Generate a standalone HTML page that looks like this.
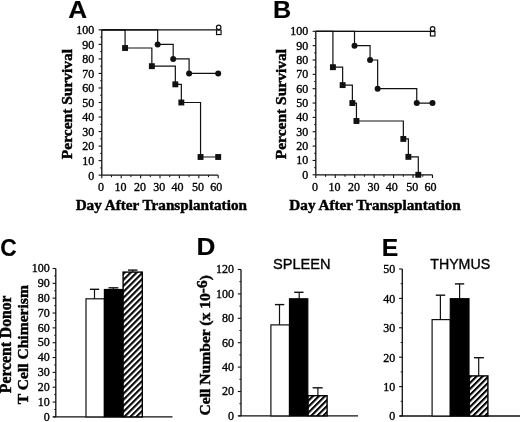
<!DOCTYPE html><html><head><meta charset="utf-8"><style>html,body{margin:0;padding:0;background:#fff;}svg{display:block;will-change:transform;}</style></head><body>
<svg width="520" height="422" viewBox="0 0 520 422">
<defs><pattern id="hatch" patternUnits="userSpaceOnUse" width="4.24" height="4.24" patternTransform="rotate(45)"><rect width="4.24" height="4.24" fill="#fff"/><rect x="0" y="0" width="2.1" height="4.24" fill="#000"/></pattern></defs>
<style>text{fill:#000;stroke:#000;stroke-width:0.35px;paint-order:stroke}text.b{stroke-width:0.45px}text.s{stroke-width:0.15px}</style>
<rect width="520" height="422" fill="#fff"/>
<text transform="translate(77.8,17.6) scale(1.09,1)" class="s" font-family="Liberation Sans" font-weight="bold" font-size="24" text-anchor="middle">A</text>
<line x1="101.8" y1="29.85" x2="101.8" y2="175.15" stroke="#111" stroke-width="1.3"/>
<line x1="98.6" y1="175.15" x2="101.8" y2="175.15" stroke="#111" stroke-width="1.1"/>
<text x="94.2" y="179.55" font-family="Liberation Serif" font-size="12" font-weight="normal" text-anchor="end" >0</text>
<line x1="98.6" y1="160.62" x2="101.8" y2="160.62" stroke="#111" stroke-width="1.1"/>
<text x="94.2" y="165.02" font-family="Liberation Serif" font-size="12" font-weight="normal" text-anchor="end" >10</text>
<line x1="98.6" y1="146.09" x2="101.8" y2="146.09" stroke="#111" stroke-width="1.1"/>
<text x="94.2" y="150.49" font-family="Liberation Serif" font-size="12" font-weight="normal" text-anchor="end" >20</text>
<line x1="98.6" y1="131.56" x2="101.8" y2="131.56" stroke="#111" stroke-width="1.1"/>
<text x="94.2" y="135.96" font-family="Liberation Serif" font-size="12" font-weight="normal" text-anchor="end" >30</text>
<line x1="98.6" y1="117.03" x2="101.8" y2="117.03" stroke="#111" stroke-width="1.1"/>
<text x="94.2" y="121.43" font-family="Liberation Serif" font-size="12" font-weight="normal" text-anchor="end" >40</text>
<line x1="98.6" y1="102.5" x2="101.8" y2="102.5" stroke="#111" stroke-width="1.1"/>
<text x="94.2" y="106.9" font-family="Liberation Serif" font-size="12" font-weight="normal" text-anchor="end" >50</text>
<line x1="98.6" y1="87.97" x2="101.8" y2="87.97" stroke="#111" stroke-width="1.1"/>
<text x="94.2" y="92.37" font-family="Liberation Serif" font-size="12" font-weight="normal" text-anchor="end" >60</text>
<line x1="98.6" y1="73.44" x2="101.8" y2="73.44" stroke="#111" stroke-width="1.1"/>
<text x="94.2" y="77.84" font-family="Liberation Serif" font-size="12" font-weight="normal" text-anchor="end" >70</text>
<line x1="98.6" y1="58.91" x2="101.8" y2="58.91" stroke="#111" stroke-width="1.1"/>
<text x="94.2" y="63.31" font-family="Liberation Serif" font-size="12" font-weight="normal" text-anchor="end" >80</text>
<line x1="98.6" y1="44.38" x2="101.8" y2="44.38" stroke="#111" stroke-width="1.1"/>
<text x="94.2" y="48.78" font-family="Liberation Serif" font-size="12" font-weight="normal" text-anchor="end" >90</text>
<line x1="98.6" y1="29.85" x2="101.8" y2="29.85" stroke="#111" stroke-width="1.1"/>
<text x="94.2" y="34.25" font-family="Liberation Serif" font-size="12" font-weight="normal" text-anchor="end" >100</text>
<line x1="100.2" y1="167.88" x2="101.8" y2="167.88" stroke="#111" stroke-width="1.0"/>
<line x1="100.2" y1="153.36" x2="101.8" y2="153.36" stroke="#111" stroke-width="1.0"/>
<line x1="100.2" y1="138.82" x2="101.8" y2="138.82" stroke="#111" stroke-width="1.0"/>
<line x1="100.2" y1="124.3" x2="101.8" y2="124.3" stroke="#111" stroke-width="1.0"/>
<line x1="100.2" y1="109.77" x2="101.8" y2="109.77" stroke="#111" stroke-width="1.0"/>
<line x1="100.2" y1="95.23" x2="101.8" y2="95.23" stroke="#111" stroke-width="1.0"/>
<line x1="100.2" y1="80.7" x2="101.8" y2="80.7" stroke="#111" stroke-width="1.0"/>
<line x1="100.2" y1="66.17" x2="101.8" y2="66.17" stroke="#111" stroke-width="1.0"/>
<line x1="100.2" y1="51.64" x2="101.8" y2="51.64" stroke="#111" stroke-width="1.0"/>
<line x1="100.2" y1="37.12" x2="101.8" y2="37.12" stroke="#111" stroke-width="1.0"/>
<line x1="101.8" y1="175.15" x2="218.2" y2="175.15" stroke="#111" stroke-width="1.3"/>
<line x1="101.8" y1="175.15" x2="101.8" y2="178.35" stroke="#111" stroke-width="1.1"/>
<text x="101.1" y="190.9" font-family="Liberation Serif" font-size="12" font-weight="normal" text-anchor="middle" >0</text>
<line x1="121.2" y1="175.15" x2="121.2" y2="178.35" stroke="#111" stroke-width="1.1"/>
<text x="120.5" y="190.9" font-family="Liberation Serif" font-size="12" font-weight="normal" text-anchor="middle" >10</text>
<line x1="140.6" y1="175.15" x2="140.6" y2="178.35" stroke="#111" stroke-width="1.1"/>
<text x="139.9" y="190.9" font-family="Liberation Serif" font-size="12" font-weight="normal" text-anchor="middle" >20</text>
<line x1="160" y1="175.15" x2="160" y2="178.35" stroke="#111" stroke-width="1.1"/>
<text x="159.3" y="190.9" font-family="Liberation Serif" font-size="12" font-weight="normal" text-anchor="middle" >30</text>
<line x1="179.4" y1="175.15" x2="179.4" y2="178.35" stroke="#111" stroke-width="1.1"/>
<text x="177.5" y="190.9" font-family="Liberation Serif" font-size="12" font-weight="normal" text-anchor="middle" >40</text>
<line x1="198.8" y1="175.15" x2="198.8" y2="178.35" stroke="#111" stroke-width="1.1"/>
<text x="198.1" y="190.9" font-family="Liberation Serif" font-size="12" font-weight="normal" text-anchor="middle" >50</text>
<line x1="218.2" y1="175.15" x2="218.2" y2="178.35" stroke="#111" stroke-width="1.1"/>
<text x="216.3" y="190.9" font-family="Liberation Serif" font-size="12" font-weight="normal" text-anchor="middle" >60</text>
<line x1="111.5" y1="175.15" x2="111.5" y2="177.15" stroke="#111" stroke-width="1.0"/>
<line x1="130.9" y1="175.15" x2="130.9" y2="177.15" stroke="#111" stroke-width="1.0"/>
<line x1="150.3" y1="175.15" x2="150.3" y2="177.15" stroke="#111" stroke-width="1.0"/>
<line x1="169.7" y1="175.15" x2="169.7" y2="177.15" stroke="#111" stroke-width="1.0"/>
<line x1="189.1" y1="175.15" x2="189.1" y2="177.15" stroke="#111" stroke-width="1.0"/>
<line x1="208.5" y1="175.15" x2="208.5" y2="177.15" stroke="#111" stroke-width="1.0"/>
<line x1="101.8" y1="29.85" x2="218.2" y2="29.85" stroke="#111" stroke-width="1.2"/>
<path d="M101.8,29.85 H157.67 V44.38 H173.19 V58.91 H189.1 V73.44 H218.2 V73.44" fill="none" stroke="#111" stroke-width="1.2"/>
<path d="M101.8,29.85 H125.08 V48.01 H151.85 V66.17 H175.33 V84.34 H181.34 V102.5 H200.55 V156.99 H218.2 V156.99" fill="none" stroke="#111" stroke-width="1.2"/>
<circle cx="157.67" cy="44.38" r="3" fill="#111"/>
<circle cx="173.19" cy="58.91" r="3" fill="#111"/>
<circle cx="189.1" cy="73.44" r="3" fill="#111"/>
<circle cx="218.2" cy="73.44" r="3" fill="#111"/>
<rect x="122.13" y="45.06" width="5.9" height="5.9" fill="#111"/>
<rect x="148.9" y="63.22" width="5.9" height="5.9" fill="#111"/>
<rect x="172.38" y="81.39" width="5.9" height="5.9" fill="#111"/>
<rect x="178.39" y="99.55" width="5.9" height="5.9" fill="#111"/>
<rect x="197.6" y="154.04" width="5.9" height="5.9" fill="#111"/>
<rect x="215.25" y="154.04" width="5.9" height="5.9" fill="#111"/>
<rect x="216.55" y="30.05" width="4.5" height="4.5" fill="#fff" stroke="#111" stroke-width="1.2"/>
<circle cx="218.7" cy="27.35" r="2.25" fill="#fff" stroke="#111" stroke-width="1.2"/>
<text transform="translate(72,104) rotate(-90)" class="b" font-family="Liberation Serif" font-weight="bold" font-size="15.5" text-anchor="middle">Percent Survival</text>
<text x="161.3" y="209.8" font-family="Liberation Serif" font-size="15.2" font-weight="bold" text-anchor="middle" class="b">Day After Transplantation</text>
<text transform="translate(282.2,17.6) scale(1.05,1)" class="s" font-family="Liberation Sans" font-weight="bold" font-size="24" text-anchor="middle">B</text>
<line x1="315.8" y1="31.3" x2="315.8" y2="174.8" stroke="#111" stroke-width="1.3"/>
<line x1="312.6" y1="174.8" x2="315.8" y2="174.8" stroke="#111" stroke-width="1.1"/>
<text x="308.2" y="178.8" font-family="Liberation Serif" font-size="12" font-weight="normal" text-anchor="end" >0</text>
<line x1="312.6" y1="160.45" x2="315.8" y2="160.45" stroke="#111" stroke-width="1.1"/>
<text x="308.2" y="164.45" font-family="Liberation Serif" font-size="12" font-weight="normal" text-anchor="end" >10</text>
<line x1="312.6" y1="146.1" x2="315.8" y2="146.1" stroke="#111" stroke-width="1.1"/>
<text x="308.2" y="150.1" font-family="Liberation Serif" font-size="12" font-weight="normal" text-anchor="end" >20</text>
<line x1="312.6" y1="131.75" x2="315.8" y2="131.75" stroke="#111" stroke-width="1.1"/>
<text x="308.2" y="135.75" font-family="Liberation Serif" font-size="12" font-weight="normal" text-anchor="end" >30</text>
<line x1="312.6" y1="117.4" x2="315.8" y2="117.4" stroke="#111" stroke-width="1.1"/>
<text x="308.2" y="121.4" font-family="Liberation Serif" font-size="12" font-weight="normal" text-anchor="end" >40</text>
<line x1="312.6" y1="103.05" x2="315.8" y2="103.05" stroke="#111" stroke-width="1.1"/>
<text x="308.2" y="107.05" font-family="Liberation Serif" font-size="12" font-weight="normal" text-anchor="end" >50</text>
<line x1="312.6" y1="88.7" x2="315.8" y2="88.7" stroke="#111" stroke-width="1.1"/>
<text x="308.2" y="92.7" font-family="Liberation Serif" font-size="12" font-weight="normal" text-anchor="end" >60</text>
<line x1="312.6" y1="74.35" x2="315.8" y2="74.35" stroke="#111" stroke-width="1.1"/>
<text x="308.2" y="78.35" font-family="Liberation Serif" font-size="12" font-weight="normal" text-anchor="end" >70</text>
<line x1="312.6" y1="60" x2="315.8" y2="60" stroke="#111" stroke-width="1.1"/>
<text x="308.2" y="64" font-family="Liberation Serif" font-size="12" font-weight="normal" text-anchor="end" >80</text>
<line x1="312.6" y1="45.65" x2="315.8" y2="45.65" stroke="#111" stroke-width="1.1"/>
<text x="308.2" y="49.65" font-family="Liberation Serif" font-size="12" font-weight="normal" text-anchor="end" >90</text>
<line x1="312.6" y1="31.3" x2="315.8" y2="31.3" stroke="#111" stroke-width="1.1"/>
<text x="308.2" y="35.3" font-family="Liberation Serif" font-size="12" font-weight="normal" text-anchor="end" >100</text>
<line x1="314.2" y1="167.62" x2="315.8" y2="167.62" stroke="#111" stroke-width="1.0"/>
<line x1="314.2" y1="153.28" x2="315.8" y2="153.28" stroke="#111" stroke-width="1.0"/>
<line x1="314.2" y1="138.93" x2="315.8" y2="138.93" stroke="#111" stroke-width="1.0"/>
<line x1="314.2" y1="124.58" x2="315.8" y2="124.58" stroke="#111" stroke-width="1.0"/>
<line x1="314.2" y1="110.23" x2="315.8" y2="110.23" stroke="#111" stroke-width="1.0"/>
<line x1="314.2" y1="95.88" x2="315.8" y2="95.88" stroke="#111" stroke-width="1.0"/>
<line x1="314.2" y1="81.53" x2="315.8" y2="81.53" stroke="#111" stroke-width="1.0"/>
<line x1="314.2" y1="67.18" x2="315.8" y2="67.18" stroke="#111" stroke-width="1.0"/>
<line x1="314.2" y1="52.83" x2="315.8" y2="52.83" stroke="#111" stroke-width="1.0"/>
<line x1="314.2" y1="38.47" x2="315.8" y2="38.47" stroke="#111" stroke-width="1.0"/>
<line x1="315.8" y1="174.8" x2="432.5" y2="174.8" stroke="#111" stroke-width="1.3"/>
<line x1="315.8" y1="174.8" x2="315.8" y2="178" stroke="#111" stroke-width="1.1"/>
<text x="315.1" y="191.3" font-family="Liberation Serif" font-size="12" font-weight="normal" text-anchor="middle" >0</text>
<line x1="335.25" y1="174.8" x2="335.25" y2="178" stroke="#111" stroke-width="1.1"/>
<text x="334.55" y="191.3" font-family="Liberation Serif" font-size="12" font-weight="normal" text-anchor="middle" >10</text>
<line x1="354.7" y1="174.8" x2="354.7" y2="178" stroke="#111" stroke-width="1.1"/>
<text x="354" y="191.3" font-family="Liberation Serif" font-size="12" font-weight="normal" text-anchor="middle" >20</text>
<line x1="374.15" y1="174.8" x2="374.15" y2="178" stroke="#111" stroke-width="1.1"/>
<text x="373.45" y="191.3" font-family="Liberation Serif" font-size="12" font-weight="normal" text-anchor="middle" >30</text>
<line x1="393.6" y1="174.8" x2="393.6" y2="178" stroke="#111" stroke-width="1.1"/>
<text x="391.7" y="191.3" font-family="Liberation Serif" font-size="12" font-weight="normal" text-anchor="middle" >40</text>
<line x1="413.05" y1="174.8" x2="413.05" y2="178" stroke="#111" stroke-width="1.1"/>
<text x="412.35" y="191.3" font-family="Liberation Serif" font-size="12" font-weight="normal" text-anchor="middle" >50</text>
<line x1="432.5" y1="174.8" x2="432.5" y2="178" stroke="#111" stroke-width="1.1"/>
<text x="430.6" y="191.3" font-family="Liberation Serif" font-size="12" font-weight="normal" text-anchor="middle" >60</text>
<line x1="325.53" y1="174.8" x2="325.53" y2="176.8" stroke="#111" stroke-width="1.0"/>
<line x1="344.98" y1="174.8" x2="344.98" y2="176.8" stroke="#111" stroke-width="1.0"/>
<line x1="364.43" y1="174.8" x2="364.43" y2="176.8" stroke="#111" stroke-width="1.0"/>
<line x1="383.88" y1="174.8" x2="383.88" y2="176.8" stroke="#111" stroke-width="1.0"/>
<line x1="403.33" y1="174.8" x2="403.33" y2="176.8" stroke="#111" stroke-width="1.0"/>
<line x1="422.78" y1="174.8" x2="422.78" y2="176.8" stroke="#111" stroke-width="1.0"/>
<line x1="315.8" y1="31.3" x2="432.5" y2="31.3" stroke="#111" stroke-width="1.2"/>
<path d="M315.8,31.3 H354.51 V45.65 H370.07 V60 H377.65 V88.7 H416.75 V103.05 H432.5 V103.05" fill="none" stroke="#111" stroke-width="1.2"/>
<path d="M315.8,31.3 H332.92 V67.18 H342.64 V85.11 H352.37 V103.05 H356.45 V120.99 H403.33 V138.93 H408.38 V156.86 H418.3 V174.8" fill="none" stroke="#111" stroke-width="1.2"/>
<circle cx="354.51" cy="45.65" r="3" fill="#111"/>
<circle cx="370.07" cy="60" r="3" fill="#111"/>
<circle cx="377.65" cy="88.7" r="3" fill="#111"/>
<circle cx="416.75" cy="103.05" r="3" fill="#111"/>
<circle cx="432.5" cy="103.05" r="3" fill="#111"/>
<rect x="329.97" y="64.23" width="5.9" height="5.9" fill="#111"/>
<rect x="339.69" y="82.16" width="5.9" height="5.9" fill="#111"/>
<rect x="349.42" y="100.1" width="5.9" height="5.9" fill="#111"/>
<rect x="353.5" y="118.04" width="5.9" height="5.9" fill="#111"/>
<rect x="400.38" y="135.98" width="5.9" height="5.9" fill="#111"/>
<rect x="405.43" y="153.91" width="5.9" height="5.9" fill="#111"/>
<rect x="415.35" y="171.85" width="5.9" height="5.9" fill="#111"/>
<rect x="430.45" y="31.5" width="4.5" height="4.5" fill="#fff" stroke="#111" stroke-width="1.2"/>
<circle cx="432.6" cy="28.8" r="2.25" fill="#fff" stroke="#111" stroke-width="1.2"/>
<text transform="translate(286.3,104.1) rotate(-90)" class="b" font-family="Liberation Serif" font-weight="bold" font-size="15.5" text-anchor="middle">Percent Survival</text>
<text x="375" y="209.8" font-family="Liberation Serif" font-size="15.2" font-weight="bold" text-anchor="middle" class="b">Day After Transplantation</text>
<text transform="translate(8.5,256.2) scale(0.95,1)" class="s" font-family="Liberation Sans" font-weight="bold" font-size="24" text-anchor="middle">C</text>
<line x1="55.8" y1="268.5" x2="55.8" y2="416.9" stroke="#111" stroke-width="1.3"/>
<line x1="52.6" y1="416.9" x2="55.8" y2="416.9" stroke="#111" stroke-width="1.1"/>
<text x="49.8" y="420.6" font-family="Liberation Serif" font-size="12" font-weight="normal" text-anchor="end" >0</text>
<line x1="52.6" y1="402.06" x2="55.8" y2="402.06" stroke="#111" stroke-width="1.1"/>
<text x="49.8" y="405.76" font-family="Liberation Serif" font-size="12" font-weight="normal" text-anchor="end" >10</text>
<line x1="52.6" y1="387.22" x2="55.8" y2="387.22" stroke="#111" stroke-width="1.1"/>
<text x="49.8" y="390.92" font-family="Liberation Serif" font-size="12" font-weight="normal" text-anchor="end" >20</text>
<line x1="52.6" y1="372.38" x2="55.8" y2="372.38" stroke="#111" stroke-width="1.1"/>
<text x="49.8" y="376.08" font-family="Liberation Serif" font-size="12" font-weight="normal" text-anchor="end" >30</text>
<line x1="52.6" y1="357.54" x2="55.8" y2="357.54" stroke="#111" stroke-width="1.1"/>
<text x="49.8" y="361.24" font-family="Liberation Serif" font-size="12" font-weight="normal" text-anchor="end" >40</text>
<line x1="52.6" y1="342.7" x2="55.8" y2="342.7" stroke="#111" stroke-width="1.1"/>
<text x="49.8" y="346.4" font-family="Liberation Serif" font-size="12" font-weight="normal" text-anchor="end" >50</text>
<line x1="52.6" y1="327.86" x2="55.8" y2="327.86" stroke="#111" stroke-width="1.1"/>
<text x="49.8" y="331.56" font-family="Liberation Serif" font-size="12" font-weight="normal" text-anchor="end" >60</text>
<line x1="52.6" y1="313.02" x2="55.8" y2="313.02" stroke="#111" stroke-width="1.1"/>
<text x="49.8" y="316.72" font-family="Liberation Serif" font-size="12" font-weight="normal" text-anchor="end" >70</text>
<line x1="52.6" y1="298.18" x2="55.8" y2="298.18" stroke="#111" stroke-width="1.1"/>
<text x="49.8" y="301.88" font-family="Liberation Serif" font-size="12" font-weight="normal" text-anchor="end" >80</text>
<line x1="52.6" y1="283.34" x2="55.8" y2="283.34" stroke="#111" stroke-width="1.1"/>
<text x="49.8" y="287.04" font-family="Liberation Serif" font-size="12" font-weight="normal" text-anchor="end" >90</text>
<line x1="52.6" y1="268.5" x2="55.8" y2="268.5" stroke="#111" stroke-width="1.1"/>
<text x="49.8" y="272.2" font-family="Liberation Serif" font-size="12" font-weight="normal" text-anchor="end" >100</text>
<line x1="54.2" y1="409.48" x2="55.8" y2="409.48" stroke="#111" stroke-width="1.0"/>
<line x1="54.2" y1="394.64" x2="55.8" y2="394.64" stroke="#111" stroke-width="1.0"/>
<line x1="54.2" y1="379.8" x2="55.8" y2="379.8" stroke="#111" stroke-width="1.0"/>
<line x1="54.2" y1="364.96" x2="55.8" y2="364.96" stroke="#111" stroke-width="1.0"/>
<line x1="54.2" y1="350.12" x2="55.8" y2="350.12" stroke="#111" stroke-width="1.0"/>
<line x1="54.2" y1="335.28" x2="55.8" y2="335.28" stroke="#111" stroke-width="1.0"/>
<line x1="54.2" y1="320.44" x2="55.8" y2="320.44" stroke="#111" stroke-width="1.0"/>
<line x1="54.2" y1="305.6" x2="55.8" y2="305.6" stroke="#111" stroke-width="1.0"/>
<line x1="54.2" y1="290.76" x2="55.8" y2="290.76" stroke="#111" stroke-width="1.0"/>
<line x1="54.2" y1="275.92" x2="55.8" y2="275.92" stroke="#111" stroke-width="1.0"/>
<line x1="53.2" y1="416.9" x2="172.5" y2="416.9" stroke="#111" stroke-width="1.3"/>
<line x1="94.5" y1="289.3" x2="94.5" y2="298.8" stroke="#111" stroke-width="1.2"/>
<line x1="89.9" y1="289.3" x2="99.2" y2="289.3" stroke="#111" stroke-width="1.4"/>
<rect x="86" y="298.8" width="18.4" height="118.1" fill="#fff" stroke="#111" stroke-width="1.2"/>
<line x1="113.4" y1="287.8" x2="113.4" y2="289.5" stroke="#111" stroke-width="1.2"/>
<line x1="108.5" y1="287.8" x2="118.3" y2="287.8" stroke="#111" stroke-width="1.4"/>
<rect x="104.4" y="289.5" width="18.4" height="127.4" fill="#000" stroke="#000" stroke-width="1.2"/>
<line x1="132.8" y1="270.1" x2="132.8" y2="272.1" stroke="#111" stroke-width="1.2"/>
<line x1="128" y1="270.1" x2="137.5" y2="270.1" stroke="#111" stroke-width="1.4"/>
<rect x="123.1" y="272.1" width="19.2" height="144.8" fill="url(#hatch)" stroke="#000" stroke-width="1.4"/>
<text transform="translate(10.8,344.3) rotate(-90)" class="b" font-family="Liberation Serif" font-weight="bold" font-size="15.7" text-anchor="middle">Percent Donor</text>
<text transform="translate(27.7,344.7) rotate(-90)" class="b" font-family="Liberation Serif" font-weight="bold" font-size="15.6" text-anchor="middle">T Cell Chimerism</text>
<text transform="translate(206,255.4) scale(1.09,1)" class="s" font-family="Liberation Sans" font-weight="bold" font-size="24" text-anchor="middle">D</text>
<line x1="241" y1="269.5" x2="241" y2="415.9" stroke="#111" stroke-width="1.3"/>
<line x1="237.8" y1="415.9" x2="241" y2="415.9" stroke="#111" stroke-width="1.1"/>
<text x="234" y="419.8" font-family="Liberation Serif" font-size="12" font-weight="normal" text-anchor="end" >0</text>
<line x1="237.8" y1="391.5" x2="241" y2="391.5" stroke="#111" stroke-width="1.1"/>
<text x="234" y="395.4" font-family="Liberation Serif" font-size="12" font-weight="normal" text-anchor="end" >20</text>
<line x1="237.8" y1="367.1" x2="241" y2="367.1" stroke="#111" stroke-width="1.1"/>
<text x="234" y="371" font-family="Liberation Serif" font-size="12" font-weight="normal" text-anchor="end" >40</text>
<line x1="237.8" y1="342.7" x2="241" y2="342.7" stroke="#111" stroke-width="1.1"/>
<text x="234" y="346.6" font-family="Liberation Serif" font-size="12" font-weight="normal" text-anchor="end" >60</text>
<line x1="237.8" y1="318.3" x2="241" y2="318.3" stroke="#111" stroke-width="1.1"/>
<text x="234" y="322.2" font-family="Liberation Serif" font-size="12" font-weight="normal" text-anchor="end" >80</text>
<line x1="237.8" y1="293.9" x2="241" y2="293.9" stroke="#111" stroke-width="1.1"/>
<text x="234" y="297.8" font-family="Liberation Serif" font-size="12" font-weight="normal" text-anchor="end" >100</text>
<line x1="237.8" y1="269.5" x2="241" y2="269.5" stroke="#111" stroke-width="1.1"/>
<text x="234" y="273.4" font-family="Liberation Serif" font-size="12" font-weight="normal" text-anchor="end" >120</text>
<line x1="239.4" y1="403.7" x2="241" y2="403.7" stroke="#111" stroke-width="1.0"/>
<line x1="239.4" y1="379.3" x2="241" y2="379.3" stroke="#111" stroke-width="1.0"/>
<line x1="239.4" y1="354.9" x2="241" y2="354.9" stroke="#111" stroke-width="1.0"/>
<line x1="239.4" y1="330.5" x2="241" y2="330.5" stroke="#111" stroke-width="1.0"/>
<line x1="239.4" y1="306.1" x2="241" y2="306.1" stroke="#111" stroke-width="1.0"/>
<line x1="239.4" y1="281.7" x2="241" y2="281.7" stroke="#111" stroke-width="1.0"/>
<line x1="238.4" y1="415.9" x2="358" y2="415.9" stroke="#111" stroke-width="1.3"/>
<line x1="279.5" y1="304.6" x2="279.5" y2="324.9" stroke="#111" stroke-width="1.2"/>
<line x1="274.9" y1="304.6" x2="284.3" y2="304.6" stroke="#111" stroke-width="1.4"/>
<rect x="270.9" y="324.9" width="18.6" height="91" fill="#fff" stroke="#111" stroke-width="1.2"/>
<line x1="299.2" y1="292.3" x2="299.2" y2="298.8" stroke="#111" stroke-width="1.2"/>
<line x1="294.2" y1="292.3" x2="303.5" y2="292.3" stroke="#111" stroke-width="1.4"/>
<rect x="289.5" y="298.8" width="18.3" height="117.1" fill="#000" stroke="#000" stroke-width="1.2"/>
<line x1="317.9" y1="387.8" x2="317.9" y2="395.7" stroke="#111" stroke-width="1.2"/>
<line x1="312.6" y1="387.8" x2="322.7" y2="387.8" stroke="#111" stroke-width="1.4"/>
<rect x="308.1" y="395.7" width="19" height="20.2" fill="url(#hatch)" stroke="#000" stroke-width="1.4"/>
<text x="301.8" y="268.5" font-family="Liberation Sans" font-size="14.6" font-weight="normal" text-anchor="middle" >SPLEEN</text>
<text transform="translate(210.3,345.2) rotate(-90)" class="b" font-family="Liberation Serif" font-weight="bold" font-size="15.6" text-anchor="middle">Cell Number (x 10<tspan dy="-3">-6</tspan><tspan dy="3">)</tspan></text>
<text transform="translate(390,256) scale(1.03,1)" class="s" font-family="Liberation Sans" font-weight="bold" font-size="24" text-anchor="middle">E</text>
<line x1="402.3" y1="269" x2="402.3" y2="416" stroke="#111" stroke-width="1.3"/>
<line x1="399.1" y1="416" x2="402.3" y2="416" stroke="#111" stroke-width="1.1"/>
<text x="395.3" y="420.3" font-family="Liberation Serif" font-size="12" font-weight="normal" text-anchor="end" >0</text>
<line x1="399.1" y1="386.6" x2="402.3" y2="386.6" stroke="#111" stroke-width="1.1"/>
<text x="395.3" y="390.9" font-family="Liberation Serif" font-size="12" font-weight="normal" text-anchor="end" >10</text>
<line x1="399.1" y1="357.2" x2="402.3" y2="357.2" stroke="#111" stroke-width="1.1"/>
<text x="395.3" y="361.5" font-family="Liberation Serif" font-size="12" font-weight="normal" text-anchor="end" >20</text>
<line x1="399.1" y1="327.8" x2="402.3" y2="327.8" stroke="#111" stroke-width="1.1"/>
<text x="395.3" y="332.1" font-family="Liberation Serif" font-size="12" font-weight="normal" text-anchor="end" >30</text>
<line x1="399.1" y1="298.4" x2="402.3" y2="298.4" stroke="#111" stroke-width="1.1"/>
<text x="395.3" y="302.7" font-family="Liberation Serif" font-size="12" font-weight="normal" text-anchor="end" >40</text>
<line x1="399.1" y1="269" x2="402.3" y2="269" stroke="#111" stroke-width="1.1"/>
<text x="395.3" y="273.3" font-family="Liberation Serif" font-size="12" font-weight="normal" text-anchor="end" >50</text>
<line x1="400.7" y1="401.3" x2="402.3" y2="401.3" stroke="#111" stroke-width="1.0"/>
<line x1="400.7" y1="371.9" x2="402.3" y2="371.9" stroke="#111" stroke-width="1.0"/>
<line x1="400.7" y1="342.5" x2="402.3" y2="342.5" stroke="#111" stroke-width="1.0"/>
<line x1="400.7" y1="313.1" x2="402.3" y2="313.1" stroke="#111" stroke-width="1.0"/>
<line x1="400.7" y1="283.7" x2="402.3" y2="283.7" stroke="#111" stroke-width="1.0"/>
<line x1="399.7" y1="416" x2="520" y2="416" stroke="#111" stroke-width="1.3"/>
<line x1="440.4" y1="295.2" x2="440.4" y2="319.6" stroke="#111" stroke-width="1.2"/>
<line x1="435.8" y1="295.2" x2="445.2" y2="295.2" stroke="#111" stroke-width="1.4"/>
<rect x="432.1" y="319.6" width="18.2" height="96.4" fill="#fff" stroke="#111" stroke-width="1.2"/>
<line x1="459.6" y1="283.9" x2="459.6" y2="298.7" stroke="#111" stroke-width="1.2"/>
<line x1="454.9" y1="283.9" x2="464.2" y2="283.9" stroke="#111" stroke-width="1.4"/>
<rect x="450.3" y="298.7" width="18.7" height="117.3" fill="#000" stroke="#000" stroke-width="1.2"/>
<line x1="478.7" y1="357.7" x2="478.7" y2="375.9" stroke="#111" stroke-width="1.2"/>
<line x1="474" y1="357.7" x2="483.9" y2="357.7" stroke="#111" stroke-width="1.4"/>
<rect x="469.3" y="375.9" width="18.6" height="40.1" fill="url(#hatch)" stroke="#000" stroke-width="1.4"/>
<text x="460.2" y="268.8" font-family="Liberation Sans" font-size="14.2" font-weight="normal" text-anchor="middle" >THYMUS</text>
</svg></body></html>
